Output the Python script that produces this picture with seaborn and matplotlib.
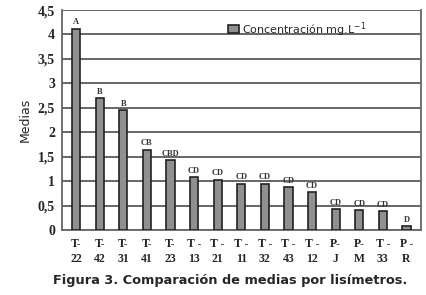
import seaborn as sns
import numpy as np
import pandas as pd
import matplotlib.pyplot as plt

lisimetros = ['T-\n22', 'T-\n42', 'T-\n31', 'T-\n41', 'T-\n23', 'T -\n13', 'T -\n21', 'T -\n11',
              'T -\n32', 'T -\n43', 'T -\n12', 'P-\nJ', 'P-\nM', 'T -\n33', 'P -\nR']
medias = [4.12, 2.70, 2.45, 1.64, 1.43, 1.08, 1.03, 0.95, 0.95, 0.88, 0.77, 0.43, 0.41, 0.39, 0.08]
letras = ['A', 'B', 'B', 'CB', 'CBD', 'CD', 'CD', 'CD', 'CD', 'CD', 'CD', 'CD', 'CD', 'CD', 'D']
yticks = [0, 0.5, 1, 1.5, 2, 2.5, 3, 3.5, 4, 4.5]

df = pd.DataFrame({'lisimetro': lisimetros, 'media': medias})

sns.set_style('white')
plt.rcParams['font.family'] = ['DejaVu Sans']

fig = plt.figure(figsize=(4.27, 2.95), dpi=100)
ax = fig.add_axes([0.145, 0.22, 0.84, 0.746])

sns.barplot(data=df, x='lisimetro', y='media', color='#909090', width=0.35,
            edgecolor='#222222', linewidth=1.2, ax=ax, label='Concentración mg.L$^{-1}$',
            zorder=3)

for i, (v, t) in enumerate(zip(medias, letras)):
    ax.text(i, v + 0.05, t, ha='center', va='bottom', fontsize=6,
            family='Liberation Serif', fontweight='bold', color='#333333')

ax.set_ylim(0, 4.5)
ax.set_yticks(yticks)
ax.set_yticklabels([str(t).replace('.', ',').replace(',0', '') if t != 0 else '0' for t in yticks],
                   family='Liberation Serif', fontweight='bold', fontsize=10)
ax.set_xticks(range(len(lisimetros)))
ax.set_xticklabels(lisimetros, family='Liberation Serif', fontweight='bold', fontsize=8.5,
                   linespacing=1.25)
ax.tick_params(axis='y', length=3, color='#555555', pad=2)
ax.tick_params(axis='x', length=3, color='#555555', pad=3)
ax.set_xlim(-0.6, len(lisimetros) - 0.4)
ax.grid(axis='y', color='#5a5a5a', linewidth=1.3, zorder=0)
ax.set_axisbelow(True)
ax.spines['top'].set_visible(False)
for s in ['left', 'right', 'bottom']:
    ax.spines[s].set_color('#666666')
    ax.spines[s].set_linewidth(1.3)

ax.set_xlabel('')
ax.set_ylabel('Medias', fontsize=9, labelpad=4)

ax.legend(loc='upper right', bbox_to_anchor=(0.87, 0.99), frameon=False, fontsize=8,
          handlelength=1.0, handleheight=0.7, borderpad=0.2, handletextpad=0.2)

fig.text(0.54, 0.05, 'Figura 3. Comparación de medias por lisímetros.', ha='center',
         va='center', fontsize=9.3, fontweight='bold')

fig.savefig('out.png', dpi=100)
